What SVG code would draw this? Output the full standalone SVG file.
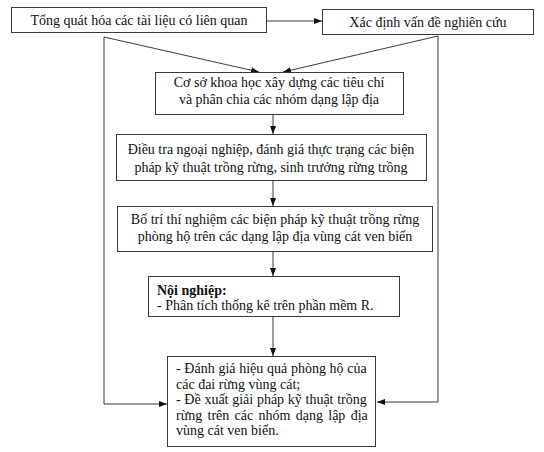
<svg xmlns="http://www.w3.org/2000/svg" width="544" height="452" viewBox="0 0 544 452">
<style>
.box{fill:#fff;stroke:#3a3a3a;stroke-width:1}
.t{font-family:"Liberation Serif","Times New Roman",serif;font-size:14px;fill:#111}
.c{text-anchor:middle}
.b{font-weight:bold}
.ln{fill:none;stroke:#3a3a3a;stroke-width:1}
</style>
<defs>
<marker id="ah" viewBox="0 0 8 6" refX="8" refY="3" markerWidth="8" markerHeight="6" markerUnits="userSpaceOnUse" orient="auto">
<path d="M0,0 L8,3 L0,6 Z" fill="#111"/>
</marker>
</defs>
<rect width="544" height="452" fill="#fff"/>
<g id="connectors">
<line class="ln" x1="267" y1="21" x2="322" y2="21" marker-end="url(#ah)"/>
<polyline class="ln" points="104,37 104,404 167,404" marker-end="url(#ah)"/>
<line class="ln" x1="104" y1="37" x2="259" y2="72" marker-end="url(#ah)"/>
<line class="ln" x1="438" y1="36" x2="283" y2="72" marker-end="url(#ah)"/>
<polyline class="ln" points="438,36 438,402 377,402" marker-end="url(#ah)"/>
<line class="ln" x1="273" y1="115" x2="273" y2="134" marker-end="url(#ah)"/>
<line class="ln" x1="273" y1="181" x2="273" y2="206" marker-end="url(#ah)"/>
<line class="ln" x1="273" y1="252" x2="273" y2="276" marker-end="url(#ah)"/>
<line class="ln" x1="273" y1="317" x2="273" y2="356" marker-end="url(#ah)"/>
</g>
<g id="n1">
<rect class="box" x="11.5" y="7.5" width="255" height="25"/>
<text class="t c" x="139" y="25">Tổng quát hóa các tài liệu có liên quan</text>
</g>
<g id="n2">
<rect class="box" x="322.5" y="9.5" width="211" height="25"/>
<text class="t c" x="428" y="27">Xác định vấn đề nghiên cứu</text>
</g>
<g id="n3">
<rect class="box" x="155.5" y="72.5" width="248" height="42"/>
<text class="t c" x="279" y="87">Cơ sở khoa học xây dựng các tiêu chí</text>
<text class="t c" x="279" y="104">và phân chia các nhóm dạng lập địa</text>
</g>
<g id="n4">
<rect class="box" x="116.5" y="134.5" width="310" height="46"/>
<text class="t c" x="271" y="153.5">Điều tra ngoại nghiệp, đánh giá thực trạng các biện</text>
<text class="t c" x="271" y="171.5">pháp kỹ thuật trồng rừng, sinh trưởng rừng trồng</text>
</g>
<g id="n5">
<rect class="box" x="117.5" y="206.5" width="315" height="45"/>
<text class="t c" x="275" y="224">Bố trí thí nghiệm các biện pháp kỹ thuật trồng rừng</text>
<text class="t c" x="275" y="241">phòng hộ trên các dạng lập địa vùng cát ven biển</text>
</g>
<g id="n6">
<rect class="box" x="148.5" y="276.5" width="251" height="40"/>
<text class="t b" x="157" y="295">Nội nghiệp:</text>
<text class="t" x="157" y="310">- Phân tích thống kê trên phần mềm R.</text>
</g>
<g id="n7">
<rect class="box" x="167.5" y="356.5" width="208" height="90"/>
<text class="t" x="176" y="373" word-spacing="0.2">- Đánh giá hiệu quả phòng hộ của</text>
<text class="t" x="176" y="389">các đai rừng vùng cát;</text>
<text class="t" x="176" y="404" word-spacing="0.2">- Đề xuất giải pháp kỹ thuật trồng</text>
<text class="t" x="176" y="420" word-spacing="1.8">rừng trên các nhóm dạng lập địa</text>
<text class="t" x="176" y="435">vùng cát ven biển.</text>
</g>
</svg>
